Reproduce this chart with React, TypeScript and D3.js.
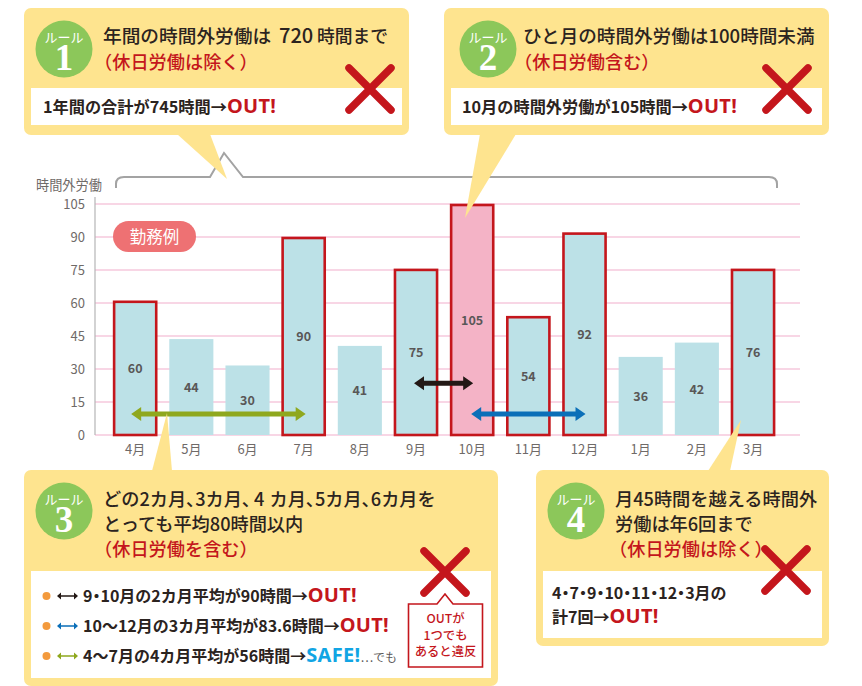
import React from "react";
import * as d3 from "d3";

const months = ["4月", "5月", "6月", "7月", "8月", "9月", "10月", "11月", "12月", "1月", "2月", "3月"];
// the printed label and the drawn bar height differ slightly in the original
const labels = [60, 44, 30, 90, 41, 75, 105, 54, 92, 36, 42, 76];
const heights = [61, 43.6, 31.6, 90, 40.5, 75.5, 105, 54, 92, 35.5, 42, 75.5];
const over45 = ["4月", "7月", "9月", "11月", "12月", "3月"];
const over100 = ["10月"];
const yTicks = [0, 15, 30, 45, 60, 75, 90, 105];

// period arrows: [from month, to month, level on the hours axis, colour, nudge left, nudge right]
const periods: [string, string, number, string, number, number][] = [
  ["4月", "7月", 9.5, "#8fa81e", -4, 2],
  ["9月", "10月", 23.5, "#231815", -2, 1],
  ["10月", "12月", 9.5, "#0b6fb8", -1, 1],
];

const INK = "#2b2320";
const RED = "#c4161c";
const YELLOW = "#fee48f";
const GREEN = "#8cc75a";
const FONT = "'Noto Sans CJK JP', 'Noto Sans', sans-serif";

const x = d3.scaleBand<string>().domain(months).range([107.5, 780.7]).paddingInner(0.215).paddingOuter(0.1);
const y = d3.scaleLinear().domain([0, 105]).range([435, 204]);
const mid = (m: string) => (x(m) as number) + x.bandwidth() / 2;

function Cross({ cx, cy }: { cx: number; cy: number }) {
  const r = 21;
  return (
    <path
      d={`M${cx - r},${cy - r}L${cx + r},${cy + r}M${cx + r},${cy - r}L${cx - r},${cy + r}`}
      stroke={RED}
      strokeWidth={7.5}
      strokeLinecap="round"
      fill="none"
    />
  );
}

function Badge({ cx, cy, n }: { cx: number; cy: number; n: number }) {
  return (
    <g>
      <circle cx={cx} cy={cy} r={28.5} fill={GREEN} />
      <text x={cx} y={cy - 7} textAnchor="middle" fontSize={13} fill="#fff">
        ルール
      </text>
      <text x={cx} y={cy + 21} textAnchor="middle" fontSize={37} fontWeight="bold" fill="#fff" fontFamily="'Liberation Serif', serif">
        {n}
      </text>
    </g>
  );
}

function Box({ x0, y0, x1, y1, tail, panelTop, panelBottom }: { x0: number; y0: number; x1: number; y1: number; tail: [number, number][]; panelTop: number; panelBottom: number }) {
  return (
    <g>
      <rect x={x0} y={y0} width={x1 - x0} height={y1 - y0} rx={7} fill={YELLOW} />
      <polygon points={tail.map((p) => p.join(",")).join(" ")} fill={YELLOW} />
      <rect x={x0 + 7} y={panelTop} width={x1 - x0 - 14} height={panelBottom - panelTop} fill="#fff" />
    </g>
  );
}

function Title({ px, py, children, fill = INK, size = 18.2 }: { px: number; py: number; children: React.ReactNode; fill?: string; size?: number }) {
  return (
    <text x={px} y={py} fontSize={size} fontWeight={500} fill={fill}>
      {children}
    </text>
  );
}

// punctuation sits tight against its neighbours in the original
function tight(text: string, mark: string) {
  return text.split(mark).map((part, i) => (
    <React.Fragment key={i}>
      {i > 0 && <tspan style={{ fontFeatureSettings: "'palt'" }}>{mark}</tspan>}
      {part}
    </React.Fragment>
  ));
}

function Word({ word, colour = RED }: { word: string; colour?: string }) {
  return (
    <tspan fontSize={20} fill={colour} fontFamily="'Noto Sans', sans-serif" fontWeight={700} letterSpacing={0.3}>
      {word}
    </tspan>
  );
}

function Verdict({ px, py, text, word = "OUT!", colour = RED, size = 16.2 }: { px: number; py: number; text: string; word?: string; colour?: string; size?: number }) {
  return (
    <text x={px} y={py} fontSize={size} fontWeight="bold" fill={INK}>
      {tight(text, "・")}
      <Word word={word} colour={colour} />
    </text>
  );
}

function DoubleArrow({ x0, x1, cy, colour, head = 10, half = 7, w = 5 }: { x0: number; x1: number; cy: number; colour: string; head?: number; half?: number; w?: number }) {
  const d = [
    `M${x0},${cy}`,
    `L${x0 + head},${cy - half}`,
    `V${cy - w / 2}`,
    `H${x1 - head}`,
    `V${cy - half}`,
    `L${x1},${cy}`,
    `L${x1 - head},${cy + half}`,
    `V${cy + w / 2}`,
    `H${x0 + head}`,
    `V${cy + half}`,
    "Z",
  ].join("");
  return <path d={d} fill={colour} />;
}

function Legend({ py, colour }: { py: number; colour: string }) {
  return (
    <g>
      <circle cx={46.5} cy={py} r={4} fill="#f39a3d" />
      <DoubleArrow x0={57} x1={78} cy={py} colour={colour} head={4} half={3.5} w={1.4} />
    </g>
  );
}

export default function App() {
  return (
    <svg
      width={862}
      height={686}
      viewBox="0 0 862 686"
      fontFamily={FONT}
      style={{ position: "absolute", left: 0, top: 0, background: "#fff" }}
    >
      {/* gridlines */}
      {yTicks.map((t) => (
        <line key={t} x1={95} x2={800} y1={y(t)} y2={y(t)} stroke="#f6c9dc" strokeWidth={1.6} />
      ))}
      <line x1={95} x2={95} y1={197} y2={y(0)} stroke="#b5b5b6" strokeWidth={1.2} />
      {yTicks.map((t) => (
        <text key={t} x={85} y={y(t) + 5} textAnchor="end" fontSize={13} fill="#6f6a68">
          {t}
        </text>
      ))}
      <text x={36} y={190} fontSize={13.2} fill="#6f6a68">
        時間外労働
      </text>

      {/* bracket over the bars */}
      <path
        d="M116,188V184Q116,177 124,177H210L224,153L243,177H769Q777,177 777,184V188"
        fill="none"
        stroke="#a3a3a3"
        strokeWidth={2}
      />

      {/* bars */}
      {months.map((m, i) => {
        const isOver = over45.includes(m);
        const isPeak = over100.includes(m);
        const top = y(heights[i]);
        const edged = isOver || isPeak;
        return (
          <g key={m}>
            <rect
              x={(x(m) as number) + (edged ? 1 : 0)}
              y={top + (edged ? 1 : 0)}
              width={x.bandwidth() - (edged ? 2 : 0)}
              height={y(0) - top - (edged ? 1 : 0)}
              fill={isPeak ? "#f4b3c6" : "#bce1e7"}
              stroke={edged ? RED : "none"}
              strokeWidth={2.6}
            />
            <text x={mid(m)} y={(top + y(0)) / 2 + 5} textAnchor="middle" fontSize={12.5} fontWeight="bold" fill="#595757">
              {labels[i]}
            </text>
            <text x={mid(m)} y={454} textAnchor="middle" fontSize={13} fill="#6f6a68">
              {m}
            </text>
          </g>
        );
      })}

      {periods.map(([a, b, level, colour, nudgeA, nudgeB]) => (
        <DoubleArrow key={a + b} x0={mid(a) + nudgeA} x1={mid(b) + nudgeB} cy={y(level)} colour={colour} />
      ))}

      <rect x={113} y={221} width={83} height={31} rx={15.5} fill="#ee7173" />
      <text x={154.5} y={242.5} textAnchor="middle" fontSize={16.5} fill="#fff">
        勤務例
      </text>

      {/* rule 1 */}
      <Box x0={24} y0={8} x1={409} y1={135} panelTop={88} panelBottom={125} tail={[[177, 134], [210, 134], [227, 179]]} />
      <Badge cx={64} cy={49} n={1} />
      <text y={43} fontSize={18.7} fontWeight={500} fill={INK}>
        <tspan x={103}>年間の時間外労働は</tspan>
        <tspan x={279} fontSize={20}>720</tspan>
        <tspan x={317} fontSize={17.8}>時間まで</tspan>
      </text>
      <Title px={94} py={69} fill={RED}>（休日労働は除く）</Title>
      <Verdict px={43} py={113} text="1年間の合計が745時間→" />
      <Cross cx={370} cy={89} />

      {/* rule 2 */}
      <Box x0={444} y0={8} x1={829} y1={135} panelTop={88} panelBottom={125} tail={[[480, 134], [516, 134], [465, 218]]} />
      <Badge cx={488} cy={49} n={2} />
      <Title px={523} py={43} size={18.6}>ひと月の時間外労働は100時間未満</Title>
      <Title px={514} py={69} fill={RED}>（休日労働含む）</Title>
      <Verdict px={462} py={113} text="10月の時間外労働が105時間→" />
      <Cross cx={787} cy={89} />

      {/* rule 3 */}
      <Box x0={24} y0={470} x1={498} y1={686} panelTop={571} panelBottom={678} tail={[[152, 471], [172, 471], [167, 413]]} />
      <Badge cx={64} cy={511} n={3} />
      <Title px={103} py={506}>
        {tight("どの2カ月、3カ月、", "、")}
        <tspan dx={3}>4</tspan>
        <tspan dx={5}>{tight("カ月、5カ月、6カ月を", "、")}</tspan>
      </Title>
      <Title px={103} py={531}>とっても平均80時間以内</Title>
      <Title px={94} py={556} fill={RED}>（休日労働を含む）</Title>
      <Legend py={596} colour="#231815" />
      <Verdict px={83} py={602} text="9・10月の2カ月平均が90時間→" size={16} />
      <Legend py={626} colour="#0b6fb8" />
      <Verdict px={83} py={632} text="10〜12月の3カ月平均が83.6時間→" size={16} />
      <Legend py={656} colour="#8fa81e" />
      <text x={83} y={662} fontSize={16} fontWeight="bold" fill={INK}>
        4〜7月の4カ月平均が56時間→
        <Word word="SAFE!" colour="#11a5e4" />
        <tspan fontSize={12} fontWeight={400} fill="#595757">…でも</tspan>
      </text>
      <Cross cx={445} cy={572} />
      <path d="M408.5,604H437L445,594L453,604H482.5V667H408.5Z" fill="#fff" stroke={RED} strokeWidth={1.6} />
      {["OUTが", "1つでも", "あると違反"].map((line, i) => (
        <text key={line} x={445.5} y={623 + i * 16.5} textAnchor="middle" fontSize={12.3} fontWeight={500} fill={RED}>
          {line}
        </text>
      ))}

      {/* rule 4 */}
      <Box x0={536} y0={470} x1={829} y1={646} panelTop={571} panelBottom={638} tail={[[708, 471], [730, 471], [741, 420]]} />
      <Badge cx={576} cy={511} n={4} />
      <Title px={615} py={506}>月45時間を越える時間外</Title>
      <Title px={615} py={531}>労働は年6回まで</Title>
      <Title px={609} py={556} fill={RED}>（休日労働は除く）</Title>
      <text x={552} y={599} fontSize={16} fontWeight="bold" fill={INK}>{tight("4・7・9・10・11・12・3月の", "・")}</text>
      <Verdict px={552} py={623} text="計7回→" size={16} />
      <Cross cx={786} cy={570} />
    </svg>
  );
}
